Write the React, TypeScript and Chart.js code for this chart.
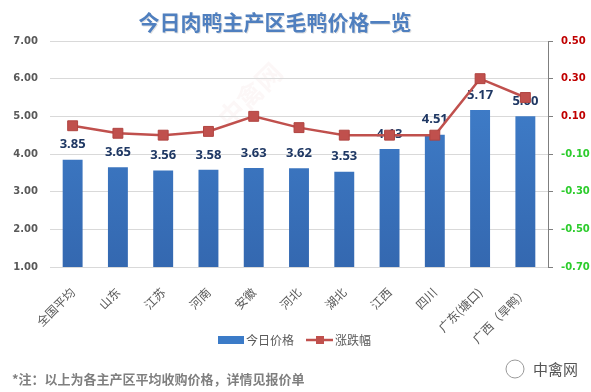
import React, { useEffect, useRef } from "react";
import { Chart, registerables } from "chart.js";

Chart.register(...registerables);

const categories = ["全国平均", "山东", "江苏", "河南", "安徽", "河北", "湖北", "江西", "四川", "广东(塘口)", "广西（旱鸭）"];
const todayPrice = [3.85, 3.65, 3.56, 3.58, 3.63, 3.62, 3.53, 4.13, 4.51, 5.17, 5.0];
const change = [0.05, 0.01, 0.0, 0.02, 0.1, 0.04, 0.0, 0.0, 0.0, 0.3, 0.2];
const leftTicks = [1, 2, 3, 4, 5, 6, 7];
const rightTicks = [-0.7, -0.5, -0.3, -0.1, 0.1, 0.3, 0.5];

const titleText = "今日肉鸭主产区毛鸭价格一览";
const noteText = "*注：以上为各主产区平均收购价格，详情见报价单";
const brandText = "中禽网";
const barLabel = "今日价格";
const lineLabel = "涨跌幅";

const CJK = '"Noto Sans CJK SC", "Noto Sans", sans-serif';
const BAR_COLOR = "#3B7BC8";
const LINE_COLOR = "#C0504D";

export default function App() {
  const ref = useRef<HTMLCanvasElement | null>(null);

  useEffect(() => {
    document.body.style.margin = "0";
    const canvas = ref.current;
    if (!canvas) return;

    const decor = {
      id: "decor",
      beforeDraw(chart: any) {
        const ctx = chart.ctx;
        ctx.save();
        ctx.fillStyle = "#ffffff";
        ctx.fillRect(0, 0, chart.width, chart.height);
        // faint watermark
        ctx.translate(250, 95);
        ctx.rotate(-Math.PI / 4);
        ctx.fillStyle = "rgba(200,120,120,0.06)";
        ctx.font = `bold 26px ${CJK}`;
        ctx.textAlign = "center";
        ctx.textBaseline = "middle";
        ctx.fillText(brandText, 0, 0);
        ctx.restore();
      },
      afterDatasetDraw(chart: any, args: any) {
        if (args.index !== 0) return;
        const ctx = chart.ctx;
        const meta = chart.getDatasetMeta(0);
        ctx.save();
        ctx.font = `bold 13px "Noto Sans", sans-serif`;
        ctx.fillStyle = "#1F3864";
        ctx.textAlign = "center";
        ctx.textBaseline = "middle";
        meta.data.forEach((bar: any, i: number) => {
          ctx.fillText(todayPrice[i].toFixed(2), bar.x, bar.y - 15);
        });
        ctx.restore();
      },
      afterDraw(chart: any) {
        const ctx = chart.ctx;
        ctx.save();
        // title
        ctx.font = `bold 21px ${CJK}`;
        ctx.textAlign = "center";
        ctx.textBaseline = "middle";
        ctx.fillStyle = "rgba(0,0,0,0.12)";
        ctx.fillText(titleText, 276, 23);
        ctx.fillStyle = "#4F7FBF";
        ctx.fillText(titleText, 275, 22);
        // legend
        ctx.fillStyle = BAR_COLOR;
        ctx.fillRect(218, 336, 26, 8);
        ctx.strokeStyle = LINE_COLOR;
        ctx.lineWidth = 2.5;
        ctx.beginPath();
        ctx.moveTo(306, 340);
        ctx.lineTo(333, 340);
        ctx.stroke();
        ctx.fillStyle = LINE_COLOR;
        ctx.fillRect(316, 336, 8, 8);
        ctx.font = `12px ${CJK}`;
        ctx.fillStyle = "#595959";
        ctx.textAlign = "left";
        ctx.fillText(barLabel, 246, 340);
        ctx.fillText(lineLabel, 335, 340);
        // note
        ctx.font = `bold 13px ${CJK}`;
        ctx.fillStyle = "#7F7F7F";
        ctx.fillText(noteText, 12, 379);
        // brand
        ctx.font = `15px ${CJK}`;
        ctx.fillStyle = "#555555";
        ctx.fillText(brandText, 533, 369);
        ctx.strokeStyle = "#9a9a9a";
        ctx.lineWidth = 1;
        ctx.beginPath();
        ctx.arc(515, 369, 9, 0, Math.PI * 2);
        ctx.stroke();
        ctx.restore();
      },
    };

    const chart = new Chart(canvas, {
      type: "bar",
      data: {
        labels: categories,
        datasets: [
          {
            type: "bar",
            label: barLabel,
            data: todayPrice,
            yAxisID: "y",
            order: 2,
            backgroundColor: (c: any) => {
              const area = c.chart.chartArea;
              if (!area) return BAR_COLOR;
              const g = c.chart.ctx.createLinearGradient(0, area.top, 0, area.bottom);
              g.addColorStop(0, "#4283D0");
              g.addColorStop(1, "#3468B0");
              return g;
            },
            barPercentage: 0.44,
            categoryPercentage: 1,
          } as any,
          {
            type: "line",
            label: lineLabel,
            data: change,
            yAxisID: "y1",
            order: 1,
            borderColor: LINE_COLOR,
            borderWidth: 2.5,
            pointStyle: "rect",
            pointRadius: 7,
            pointBackgroundColor: LINE_COLOR,
            pointBorderColor: "#B04440",
            pointBorderWidth: 1,
            tension: 0,
          } as any,
        ],
      },
      options: {
        animation: false,
        responsive: false,
        maintainAspectRatio: false,
        layout: { padding: { top: 41, left: 0, right: 0, bottom: 0 } },
        plugins: {
          legend: { display: false },
          title: { display: false },
          tooltip: { enabled: false },
        },
        scales: {
          x: {
            grid: { display: false },
            border: { color: "#D9D9D9", width: 1 },
            ticks: {
              minRotation: 45,
              maxRotation: 45,
              padding: 10,
              color: "#595959",
              font: { family: CJK, size: 12 },
              autoSkip: false,
            },
            afterFit: (s: any) => {
              s.height = 125;
            },
          },
          y: {
            position: "left",
            min: 1,
            max: 7,
            afterBuildTicks: (s: any) => {
              s.ticks = leftTicks.map((v) => ({ value: v }));
            },
            grid: { color: "#D9D9D9", drawTicks: false, tickLength: 0 },
            border: { display: false },
            ticks: {
              padding: 12,
              color: "#595959",
              font: { family: '"DejaVu Sans", sans-serif', size: 10, weight: "bold" },
              callback: (v: any) => Number(v).toFixed(2),
            },
            afterFit: (s: any) => {
              s.width = 50;
            },
          },
          y1: {
            position: "right",
            min: -0.7,
            max: 0.5,
            afterBuildTicks: (s: any) => {
              s.ticks = rightTicks.map((v) => ({ value: v }));
            },
            grid: { drawOnChartArea: false, drawTicks: true, tickLength: 5, color: "#7F7F7F" },
            border: { display: true, color: "#7F7F7F", width: 1 },
            ticks: {
              padding: 8,
              color: (c: any) => (c.tick && c.tick.value > 0 ? "#C00000" : "#2DCC2D"),
              font: { family: '"DejaVu Sans", sans-serif', size: 10, weight: "bold" },
              callback: (v: any) => Number(v).toFixed(2),
            },
            afterFit: (s: any) => {
              s.width = 43;
            },
          },
        },
      },
      plugins: [decor],
    } as any);

    return () => chart.destroy();
  }, []);

  return (
    <div style={{ width: 591, height: 392, position: "relative" }}>
      <canvas ref={ref} width={591} height={392} style={{ width: 591, height: 392, display: "block" }} />
    </div>
  );
}
